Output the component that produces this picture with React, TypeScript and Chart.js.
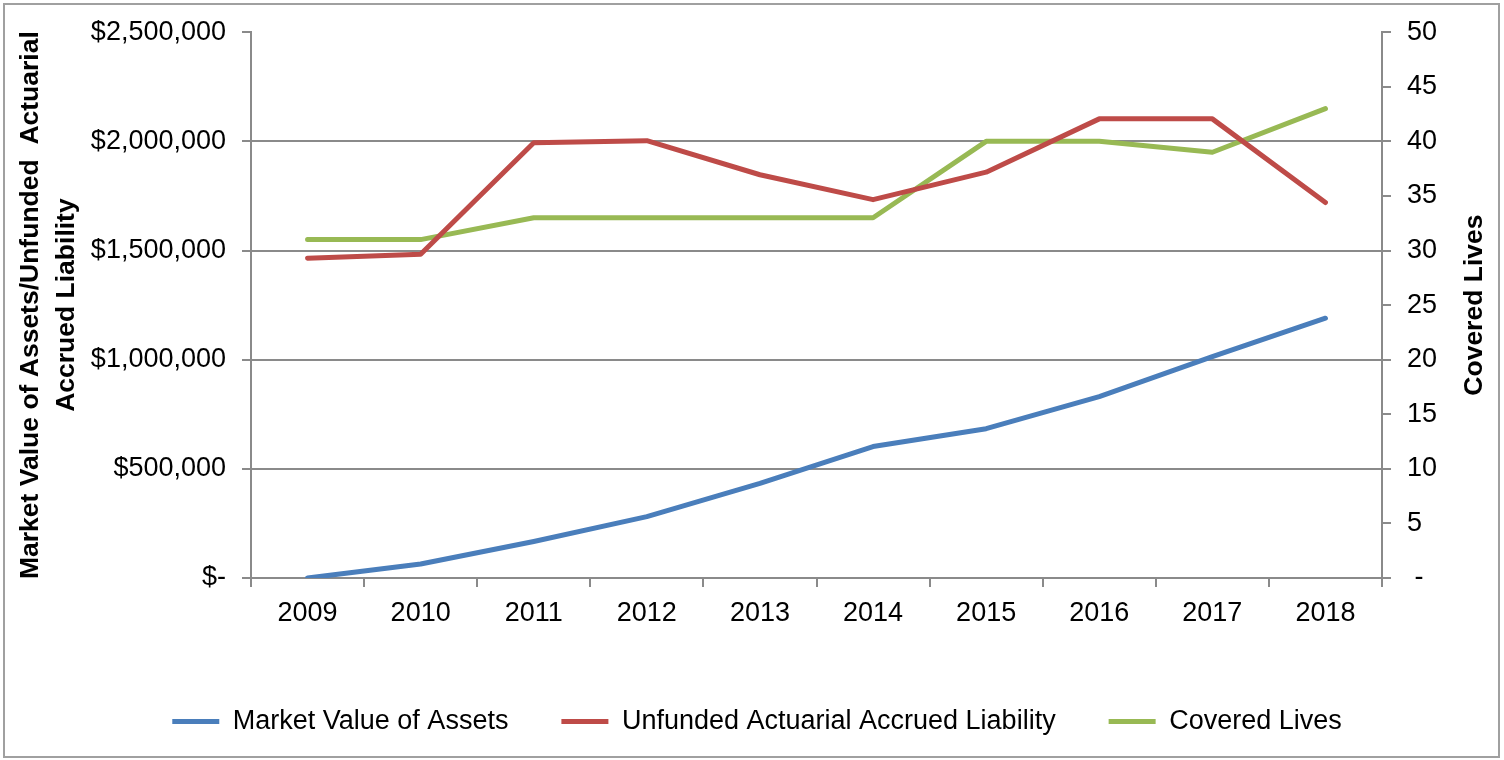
import React, { useEffect, useRef } from "react";
import { Chart, registerables } from "chart.js";

Chart.register(...registerables);

const categories = ["2009", "2010", "2011", "2012", "2013", "2014", "2015", "2016", "2017", "2018"];
const marketValueOfAssets = [0, 64000, 167000, 281000, 433000, 602000, 684000, 831000, 1014000, 1190000];
const unfundedLiability = [1465000, 1483000, 1994000, 2003000, 1847000, 1733000, 1859000, 2103000, 2103000, 1720000];
const coveredLives = [31, 31, 33, 33, 33, 33, 40, 40, 39, 43];

const seriesNames = ["Market Value of Assets", "Unfunded Actuarial Accrued Liability", "Covered Lives"];
const seriesColors = ["#4A7EBB", "#BE4B48", "#98B954"];
const leftTitle = ["Market Value of Assets/Unfunded  Actuarial", "Accrued Liability"];
const rightTitle = "Covered Lives";

const FONT = "'Liberation Sans', Arial, sans-serif";
const AXIS = "#8a8a8a";
const TEXT_SIZE = 27;
const TITLE_SIZE = 26.5;

function lineDataset(label: string, data: number[], color: string, axis: string) {
  return {
    label,
    data,
    borderColor: color,
    backgroundColor: color,
    borderWidth: 5,
    pointRadius: 0,
    pointHoverRadius: 0,
    pointBorderColor: color,
    pointBackgroundColor: color,
    pointBorderWidth: 5,
    yAxisID: axis,
  };
}

export default function App() {
  const ref = useRef<HTMLCanvasElement | null>(null);

  useEffect(() => {
    document.body.style.margin = "0";
    const canvas = ref.current!;
    const framePlugin = {
      id: "frame",
      beforeDraw(chart: any) {
        const ctx = chart.ctx;
        ctx.save();
        ctx.fillStyle = "#ffffff";
        ctx.fillRect(0, 0, chart.width, chart.height);
        ctx.strokeStyle = "#a0a0a0";
        ctx.lineWidth = 2;
        ctx.strokeRect(4, 4, 1495, 753);
        ctx.restore();
      },
      afterDraw(chart: any) {
        const ctx = chart.ctx;
        const area = chart.chartArea;
        ctx.save();
        ctx.translate(1475, (area.top + area.bottom) / 2);
        ctx.rotate(-Math.PI / 2);
        ctx.fillStyle = "#000";
        ctx.font = `bold ${TITLE_SIZE}px ${FONT}`;
        ctx.textAlign = "center";
        ctx.textBaseline = "middle";
        ctx.fillText(rightTitle, 0, 0);
        ctx.restore();
      },
    };

    const chart = new Chart(canvas, {
      type: "line",
      data: {
        labels: categories,
        datasets: [
          lineDataset(seriesNames[0], marketValueOfAssets, seriesColors[0], "y"),
          lineDataset(seriesNames[1], unfundedLiability, seriesColors[1], "y"),
          lineDataset(seriesNames[2], coveredLives, seriesColors[2], "y1"),
        ],
      },
      options: {
        responsive: false,
        animation: false,
        devicePixelRatio: 1,
        layout: { padding: { top: 30, bottom: 15, left: 10, right: 0 } },
        elements: {
          line: { borderWidth: 5, tension: 0, borderCapStyle: "round", borderJoinStyle: "round" },
          point: { radius: 0, hoverRadius: 0 },
        },
        plugins: {
          tooltip: { enabled: false },
          legend: {
            position: "bottom",
            labels: {
              usePointStyle: true,
              pointStyle: "line",
              pointStyleWidth: 47,
              boxHeight: TEXT_SIZE,
              padding: 53,
              color: "#000",
              font: { family: FONT, size: TEXT_SIZE },
            },
          },
        },
        scales: {
          x: {
            type: "category",
            offset: true,
            border: { display: true, color: AXIS, width: 2 },
            grid: { offset: true, drawOnChartArea: false, drawTicks: true, tickLength: 9, color: AXIS, tickColor: AXIS, lineWidth: 2 },
            ticks: { color: "#000", font: { family: FONT, size: TEXT_SIZE }, padding: 10, maxRotation: 0, autoSkip: false },
            afterFit: (s: any) => {
              s.height = 77;
            },
          },
          y: {
            type: "linear",
            position: "left",
            min: 0,
            max: 2500000,
            border: { display: true, color: AXIS, width: 2 },
            grid: {
              color: (c: any) => (c.tick && c.tick.value === 2500000 ? "rgba(0,0,0,0)" : AXIS),
              tickColor: AXIS,
              lineWidth: 2,
              tickLength: 9,
            },
            ticks: {
              stepSize: 500000,
              color: "#000",
              padding: 16,
              font: { family: FONT, size: TEXT_SIZE },
              callback: (v: any) => (Number(v) === 0 ? "$-" : "$" + Number(v).toLocaleString("en-US")),
            },
            title: {
              display: true,
              text: leftTitle,
              color: "#000",
              font: { family: FONT, size: TITLE_SIZE, weight: "bold", lineHeight: 1.36 },
              padding: { top: 3, bottom: 0 },
            },
            afterFit: (s: any) => {
              s.width = 241;
            },
          },
          y1: {
            type: "linear",
            position: "right",
            min: 0,
            max: 50,
            border: { display: true, color: AXIS, width: 2 },
            grid: { drawOnChartArea: false, tickColor: AXIS, tickLength: 9, lineWidth: 2 },
            ticks: {
              stepSize: 5,
              color: "#000",
              padding: 16,
              font: { family: FONT, size: TEXT_SIZE },
              callback: (v: any) => (Number(v) === 0 ? " -" : String(v)),
            },
            afterFit: (s: any) => {
              s.width = 122;
            },
          },
        },
      },
      plugins: [framePlugin],
    } as any);

    return () => chart.destroy();
  }, []);

  return (
    <div style={{ width: 1504, height: 760 }}>
      <canvas ref={ref} width={1504} height={760} style={{ display: "block", width: 1504, height: 760 }} />
    </div>
  );
}
